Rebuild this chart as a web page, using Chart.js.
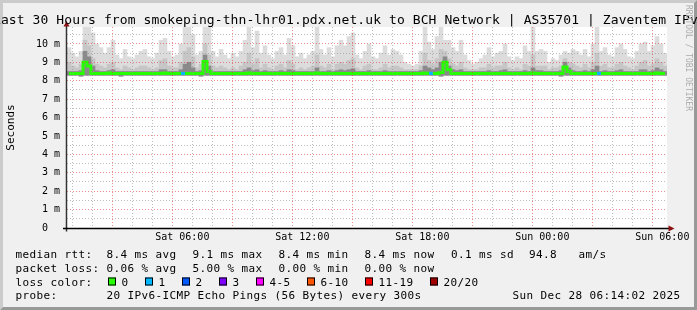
<!DOCTYPE html>
<html><head><meta charset="utf-8">
<script src="https://cdn.jsdelivr.net/npm/chart.js@4.4.1/dist/chart.umd.min.js"></script>
<style>html,body{margin:0;padding:0;background:#f0f0f0;}canvas{display:block;}</style>
</head><body>
<canvas id="c" width="697" height="310"></canvas>
<script>
// time axis: hours since Sat 00:00; graph covers Sat 00:14:02 .. Sun 06:14:02
const START_HOUR = 0.234;
const SPAN_HOURS = 30;
const STEP_HOURS = 0.2;   // one smoke column = 12 minutes
const Y_MAX = 10.92;      // ms at top of plot

const titleText = 'Last 30 Hours from smokeping-thn-lhr01.pdx.net.uk to BCH Network | AS35701 | Zaventem IPv6';

// smoke (ms): lowest ping, upper envelope, middle band, dense core
const smokeLow = [
 8.3,8.3,8.3,8.25,8.3,8.3,8.3,8.3,8.3,8.3,
 8.3,8.3,8.3,8.25,8.3,8.3,8.3,8.3,8.3,8.3,
 8.3,8.3,8.3,8.3,8.3,8.3,8.3,8.3,8.3,8.3,
 8.3,8.3,8.3,8.25,8.3,8.3,8.3,8.3,8.3,8.3,
 8.3,8.3,8.3,8.3,8.3,8.3,8.3,8.3,8.3,8.3,
 8.3,8.3,8.3,8.3,8.3,8.3,8.3,8.3,8.3,8.3,
 8.3,8.3,8.3,8.3,8.3,8.3,8.3,8.3,8.3,8.3,
 8.3,8.3,8.3,8.3,8.3,8.3,8.3,8.3,8.3,8.3,
 8.3,8.3,8.3,8.3,8.3,8.3,8.3,8.3,8.3,8.3,
 8.3,8.3,8.3,8.25,8.3,8.3,8.3,8.3,8.3,8.3,
 8.3,8.3,8.3,8.3,8.3,8.3,8.3,8.3,8.3,8.3,
 8.3,8.3,8.3,8.3,8.3,8.3,8.3,8.3,8.3,8.3,
 8.3,8.3,8.3,8.25,8.3,8.3,8.3,8.3,8.3,8.3,
 8.3,8.3,8.3,8.3,8.3,8.3,8.3,8.3,8.3,8.3,
 8.3,8.3,8.3,8.3,8.3,8.3,8.3,8.3,8.3,8.3
];
const smokeHigh = [
 9.8,9.5,9.3,9.6,11,11,10.6,10.0,9.8,9.5,
 9.8,10.2,9.4,9.2,9.7,9.3,9.2,9.4,9.6,9.7,
 9.3,9.2,9.5,10.2,10.3,9.6,9.3,9.4,10.0,10.9,
 11,10.5,9.4,9.6,11,10.9,9.6,9.3,9.7,9.4,
 9.2,9.5,9.3,9.6,10.2,11,9.8,10.7,9.5,9.9,
 9.4,9.2,9.6,9.8,9.4,10.3,9.9,9.3,9.5,9.2,
 9.4,9.6,11,9.7,9.4,9.8,9.3,9.9,10.2,9.9,
 10.4,10.6,9.4,9.2,9.6,10.0,9.3,9.2,9.5,9.9,
 9.4,9.7,9.6,9.4,9.0,8.9,8.8,8.9,9.6,11,
 10.1,9.7,10.4,11,10.2,10.2,9.8,9.6,10.2,9.4,
 9.1,8.9,9.0,9.2,9.4,9.8,9.3,9.5,9.6,10.0,
 9.3,9.1,9.3,9.2,9.9,9.6,11,9.6,9.7,9.6,
 9.0,9.2,9.1,9.4,9.6,9.5,9.7,9.6,9.4,9.7,
 9.3,10.0,11,9.6,9.8,9.4,9.3,9.8,10.0,9.7,
 9.3,9.2,9.6,10.0,10.1,9.6,9.9,10.4,10.0,9.5
];
const smokeMid = [
 9.0,8.8,8.7,8.9,10.2,9.9,9.2,8.9,8.8,8.7,
 8.9,9.0,8.7,8.6,8.8,8.7,8.6,8.7,8.8,8.8,
 8.7,8.6,8.7,9.1,9.2,8.8,8.7,8.7,9.0,9.6,
 9.8,9.3,8.7,8.9,10.0,9.4,8.8,8.7,8.8,8.7,
 8.6,8.7,8.6,8.8,9.0,9.5,8.9,9.2,8.7,8.9,
 8.7,8.6,8.8,8.9,8.7,9.1,8.9,8.6,8.7,8.6,
 8.7,8.8,9.4,8.8,8.7,8.9,8.6,8.9,9.0,8.9,
 9.1,9.2,8.7,8.6,8.8,8.9,8.6,8.6,8.7,8.9,
 8.7,8.8,8.8,8.7,8.6,8.6,8.6,8.6,8.8,9.5,
 9.1,8.9,9.2,9.7,9.6,9.2,8.9,8.8,9.0,8.7,
 8.6,8.6,8.6,8.7,8.7,8.9,8.7,8.8,8.8,9.0,
 8.7,8.6,8.7,8.6,8.9,8.8,9.4,8.8,8.8,8.8,
 8.6,8.7,8.7,8.8,9.2,9.0,8.9,8.8,8.7,8.9,
 8.7,9.0,9.5,8.8,8.9,8.7,8.7,8.9,9.0,8.8,
 8.7,8.6,8.8,9.0,9.1,8.8,8.9,9.2,9.0,8.8
];
const smokeCore = [
 8.5,8.5,8.5,8.55,9.6,9.3,8.8,8.55,8.5,8.5,
 8.55,8.6,8.5,8.5,8.5,8.5,8.5,8.5,8.5,8.5,
 8.5,8.5,8.5,8.6,8.6,8.5,8.5,8.5,8.6,8.9,
 9.0,8.7,8.5,8.55,9.4,8.8,8.5,8.5,8.5,8.5,
 8.5,8.5,8.5,8.5,8.6,8.7,8.55,8.6,8.5,8.55,
 8.5,8.5,8.5,8.55,8.5,8.6,8.55,8.5,8.5,8.5,
 8.5,8.5,8.7,8.5,8.5,8.55,8.5,8.55,8.6,8.55,
 8.6,8.65,8.5,8.5,8.5,8.55,8.5,8.5,8.5,8.55,
 8.5,8.5,8.5,8.5,8.5,8.5,8.5,8.5,8.55,8.8,
 8.7,8.6,8.7,9.0,9.3,8.8,8.6,8.55,8.6,8.5,
 8.5,8.5,8.5,8.5,8.5,8.55,8.5,8.5,8.55,8.6,
 8.5,8.5,8.5,8.5,8.55,8.5,8.7,8.55,8.55,8.5,
 8.5,8.5,8.5,8.55,9.0,8.7,8.55,8.5,8.5,8.55,
 8.5,8.6,8.8,8.5,8.55,8.5,8.5,8.55,8.6,8.5,
 8.5,8.5,8.5,8.6,8.6,8.5,8.55,8.7,8.6,8.5
];
const medianRtt = [
 8.4,8.4,8.4,8.4,9.0,8.8,8.4,8.4,8.4,8.4,
 8.42,8.4,8.4,8.4,8.4,8.4,8.4,8.4,8.4,8.4,
 8.4,8.4,8.4,8.4,8.42,8.4,8.4,8.4,8.4,8.4,
 8.4,8.4,8.4,8.4,9.05,8.5,8.4,8.4,8.4,8.4,
 8.4,8.4,8.4,8.4,8.4,8.42,8.4,8.4,8.4,8.4,
 8.4,8.4,8.4,8.4,8.4,8.4,8.4,8.4,8.4,8.4,
 8.4,8.4,8.42,8.4,8.4,8.4,8.4,8.4,8.4,8.4,
 8.4,8.4,8.4,8.4,8.4,8.4,8.4,8.4,8.4,8.4,
 8.4,8.4,8.4,8.4,8.4,8.4,8.4,8.4,8.4,8.42,
 8.4,8.4,8.4,8.45,9.0,8.6,8.4,8.4,8.4,8.4,
 8.4,8.4,8.4,8.4,8.4,8.4,8.4,8.4,8.4,8.4,
 8.4,8.4,8.4,8.4,8.4,8.4,8.42,8.4,8.4,8.4,
 8.4,8.4,8.4,8.4,8.75,8.5,8.4,8.4,8.4,8.4,
 8.4,8.4,8.4,8.4,8.4,8.4,8.4,8.4,8.4,8.4,
 8.4,8.4,8.4,8.4,8.4,8.4,8.4,8.42,8.4,8.4
];
const lossCount = [
 0,0,0,0,0,0,0,0,0,0, 0,0,0,0,0,0,0,0,0,0,
 0,0,0,0,0,0,0,0,1,0, 0,0,0,0,0,0,0,0,0,0,
 0,0,0,0,0,0,0,0,0,0, 0,0,0,0,0,0,0,0,0,0,
 0,0,0,0,0,0,0,0,0,0, 0,0,0,0,0,0,0,0,0,0,
 0,0,0,0,0,0,0,0,0,0, 1,0,0,0,0,0,0,0,0,0,
 0,0,0,0,0,0,0,0,0,0, 0,0,0,0,0,0,0,0,0,0,
 0,0,0,0,0,0,0,0,0,0, 0,0,1,0,0,0,0,0,0,0,
 0,0,0,0,0,0,0,0,0,0
];

// axes
const gridHours = [1,2,3,4,5,6,7,8,9,10,11,12,13,14,15,16,17,18,19,20,21,22,23,24,25,26,27,28,29,30];
const xTickHours = [6, 12, 18, 24, 30];
const xTickLabels = ['Sat 06:00', 'Sat 12:00', 'Sat 18:00', 'Sun 00:00', 'Sun 06:00'];
const yGridValues = [0,0.5,1,1.5,2,2.5,3,3.5,4,4.5,5,5.5,6,6.5,7,7.5,8,8.5,9,9.5,10,10.5];
const yLabelValues = [0,1,2,3,4,5,6,7,8,9,10];
const yLabels = ['0  ','1 m','2 m','3 m','4 m','5 m','6 m','7 m','8 m','9 m','10 m'];

// legend
const lossBandLabels = ['0','1','2','3','4-5','6-10','11-19','20/20'];
const lossBandMax = [0, 1, 2, 3, 5, 10, 19, 20];
const lossBandColors = ['#26ff00','#00b8ff','#0059ff','#7e00ff','#ff00ff','#ff5500','#ff0000','#a10000'];
const rttStats = ['8.4 ms avg','9.1 ms max','8.4 ms min','8.4 ms now','0.1 ms sd','94.8','am/s'];
const lossStats = ['0.06 % avg','5.00 % max','0.00 % min','0.00 % now'];
const probeText = '20 IPv6-ICMP Echo Pings (56 Bytes) every 300s';
const dateText = 'Sun Dec 28 06:14:02 2025';

function lossColor(n) {
  for (let i = 0; i < lossBandMax.length; i++) if (n <= lossBandMax[i]) return lossBandColors[i];
  return lossBandColors[lossBandColors.length - 1];
}
const times = smokeHigh.map((_, i) => START_HOUR + (i + 0.5) * STEP_HOURS);
const band = (lo, hi) => times.map((t, i) => ({x: t, y: [lo[i], hi[i]]}));

const MONO = '"DejaVu Sans Mono", monospace';
const MAJOR = 'rgba(222,48,47,0.55)';
const MINOR = 'rgba(143,143,143,0.6)';

function mono(ctx, s, x, y, pitch) { for (let i = 0; i < s.length; i++) ctx.fillText(s[i], x + i * pitch, y); }

const decor = {
  id: 'decor',
  beforeDraw(chart) {
    const ctx = chart.ctx, W = chart.width, H = chart.height, a = chart.chartArea;
    ctx.save();
    ctx.fillStyle = '#f0f0f0'; ctx.fillRect(0, 0, W, H);
    const b = 3;
    ctx.fillStyle = '#cbcbcb';
    ctx.beginPath(); ctx.moveTo(0, H); ctx.lineTo(b, H - b); ctx.lineTo(b, b); ctx.lineTo(W - b, b); ctx.lineTo(W, 0); ctx.lineTo(0, 0); ctx.closePath(); ctx.fill();
    ctx.fillStyle = '#999999';
    ctx.beginPath(); ctx.moveTo(b, H - b); ctx.lineTo(W - b, H - b); ctx.lineTo(W - b, b); ctx.lineTo(W, 0); ctx.lineTo(W, H); ctx.lineTo(0, H); ctx.closePath(); ctx.fill();
    ctx.fillStyle = '#ffffff'; ctx.fillRect(a.left, a.top, a.right - a.left, a.bottom - a.top);
    ctx.restore();
  },
  afterDraw(chart) {
    const ctx = chart.ctx, a = chart.chartArea;
    ctx.save();
    // axes
    ctx.lineWidth = 1.5;
    ctx.strokeStyle = '#333';
    ctx.beginPath(); ctx.moveTo(a.left - 0.5, a.bottom + 3.5); ctx.lineTo(a.left - 0.5, a.top - 3); ctx.stroke();
    ctx.strokeStyle = '#000';
    ctx.beginPath(); ctx.moveTo(a.left - 4, a.bottom + 0.5); ctx.lineTo(a.right + 3, a.bottom + 0.5); ctx.stroke();
    ctx.fillStyle = '#8b1010';
    ctx.beginPath(); ctx.moveTo(a.left - 3.5, a.top - 0.5); ctx.lineTo(a.left + 2.5, a.top - 0.5); ctx.lineTo(a.left - 0.5, a.top - 6); ctx.closePath(); ctx.fill();
    ctx.beginPath(); ctx.moveTo(a.right + 1.5, a.bottom - 2.5); ctx.lineTo(a.right + 1.5, a.bottom + 3.5); ctx.lineTo(a.right + 7.5, a.bottom + 0.5); ctx.closePath(); ctx.fill();
    // title
    ctx.fillStyle = '#000';
    ctx.textBaseline = 'alphabetic'; ctx.textAlign = 'left';
    ctx.font = '13px ' + MONO;
    mono(ctx, titleText, -7, 24, 7.92);
    // legend
    ctx.font = '11px ' + MONO;
    const P = 7, L = 15.5;
    const cols = [106.5, 192.5, 278.5, 364.5, 451, 529, 578.5];
    const y1 = 258, y2 = 272, y3 = 285.5, y4 = 299;
    mono(ctx, 'median rtt:', L, y1, P);
    rttStats.forEach((s, i) => mono(ctx, s, cols[i], y1, P));
    mono(ctx, 'packet loss:', L, y2, P);
    lossStats.forEach((s, i) => mono(ctx, s, cols[i], y2, P));
    mono(ctx, 'loss color:', L, y3, P);
    let bx = 108;
    lossBandLabels.forEach((s, i) => {
      ctx.fillStyle = lossBandColors[i];
      ctx.fillRect(bx, y3 - 8, 8, 8);
      ctx.strokeStyle = '#000'; ctx.lineWidth = 1;
      ctx.strokeRect(bx + 0.5, y3 - 7.5, 7, 7);
      ctx.fillStyle = '#000';
      mono(ctx, s, bx + 13.5, y3, P);
      bx += 8 + 6 + s.length * P + 16;
    });
    mono(ctx, 'probe:', L, y4, P);
    mono(ctx, probeText, cols[0], y4, P);
    mono(ctx, dateText, 680.5 - dateText.length * P, y4, P);
    // watermark
    ctx.translate(688, 5); ctx.rotate(Math.PI / 2);
    ctx.font = '8px ' + MONO; ctx.fillStyle = '#ababab'; ctx.textBaseline = 'middle';
    ctx.fillText('RRDTOOL / TOBI OETIKER', 0, 0);
    ctx.restore();
  }
};

const barCommon = {type: 'bar', grouped: false, barPercentage: 1, categoryPercentage: 1, borderWidth: 0};

new Chart(document.getElementById('c'), {
  type: 'bar',
  data: {
    datasets: [
      {type: 'line', label: 'median', data: times.map((t, i) => ({x: t, y: medianRtt[i]})),
       borderColor: lossBandColors[0], borderWidth: 3, pointRadius: 0, stepped: 'middle', order: 0,
       segment: {borderColor: c => lossColor(lossCount[c.p0DataIndex])}},
      Object.assign({label: 'core', data: band(smokeLow, smokeCore), backgroundColor: '#8a8a8a', order: 1}, barCommon),
      Object.assign({label: 'mid', data: band(smokeLow, smokeMid), backgroundColor: '#c6c6c6', order: 2}, barCommon),
      Object.assign({label: 'outer', data: band(smokeLow, smokeHigh), backgroundColor: '#dcdcdc', order: 3}, barCommon)
    ]
  },
  options: {
    responsive: false, animation: false, devicePixelRatio: 1,
    layout: {padding: {left: 0, top: 27, right: 30, bottom: 62}, autoPadding: false},
    plugins: {legend: {display: false}, tooltip: {enabled: false}, title: {display: false}},
    scales: {
      x: {
        type: 'linear', min: START_HOUR, max: START_HOUR + SPAN_HOURS, offset: false,
        afterBuildTicks: s => { s.ticks = gridHours.map(v => ({value: v})); },
        afterFit: s => { s.height = 20; s.paddingLeft = 0; s.paddingRight = 0; },
        ticks: {autoSkip: false, maxRotation: 0, minRotation: 0, padding: 3, color: '#000',
          font: {family: MONO, size: 10},
          callback: v => { const k = xTickHours.indexOf(v); return k >= 0 ? xTickLabels[k] : ''; }},
        grid: {drawTicks: false, z: 1, lineWidth: 1,
          color: c => (c.tick && c.tick.value % 3 === 0) ? MAJOR : MINOR},
        border: {display: false, dash: [1, 2]}
      },
      y: {
        type: 'linear', min: 0, max: Y_MAX,
        afterBuildTicks: s => { s.ticks = yGridValues.map(v => ({value: v})); },
        afterFit: s => { s.width = 67; s.paddingTop = 0; s.paddingBottom = 0; },
        ticks: {autoSkip: false, padding: 7, color: '#000', font: {family: MONO, size: 10},
          callback: v => { const k = yLabelValues.indexOf(v); return k >= 0 ? yLabels[k] : ''; }},
        grid: {drawTicks: false, z: 1, lineWidth: 1,
          color: c => { const v = c.tick ? c.tick.value : 0; if (v === 0) return 'rgba(0,0,0,0)'; return Number.isInteger(v) ? MAJOR : MINOR; }},
        border: {display: false, dash: [1, 2]},
        title: {display: true, text: 'Seconds', color: '#000', font: {family: MONO, size: 11}, padding: {top: 4.5, bottom: 0}}
      }
    }
  },
  plugins: [decor]
});
</script>
</body></html>
